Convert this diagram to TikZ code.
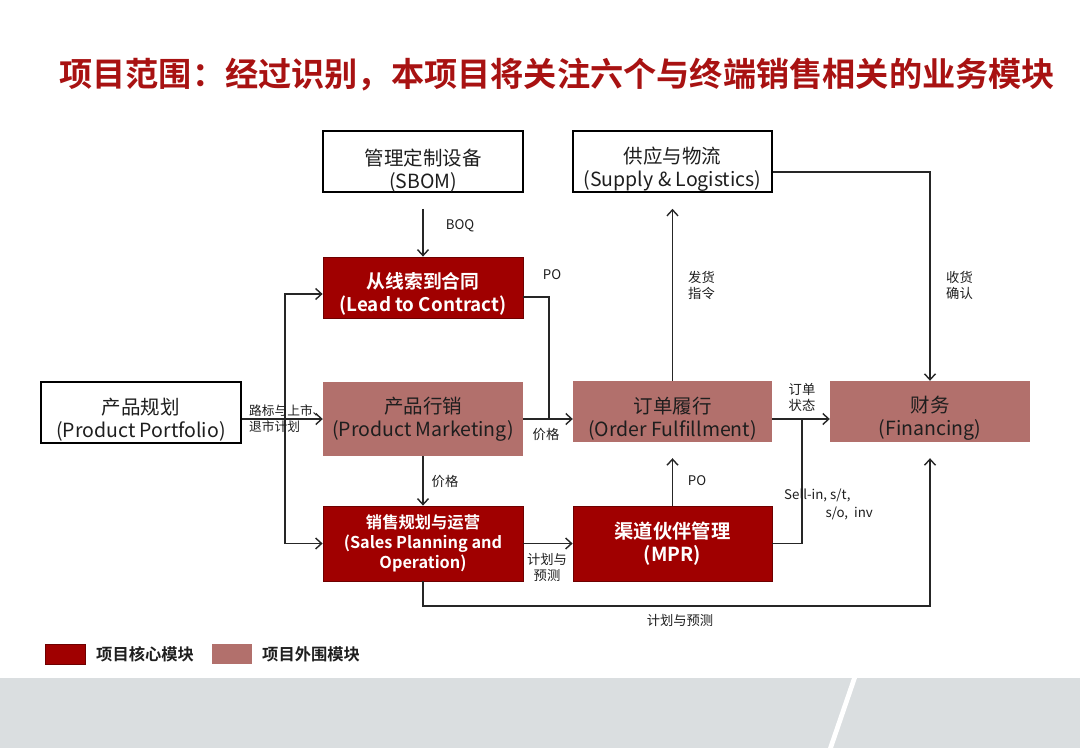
\documentclass[tikz,border=0pt]{standalone}
\usepackage{fontspec}
\setmainfont{Noto Sans CJK SC}[BoldFont={Noto Sans CJK SC Bold}]
\usetikzlibrary{arrows.meta}
\definecolor{core}{RGB}{160,0,0}
\definecolor{coreline}{RGB}{110,0,0}
\definecolor{outer}{RGB}{178,112,108}
\definecolor{titlered}{RGB}{168,18,18}
\definecolor{txt}{RGB}{30,30,30}
\definecolor{band}{RGB}{218,222,224}
\tikzset{
  box/.style={draw=black, line width=1.6pt, fill=white, minimum width=200pt, inner sep=0pt},
  corebox/.style={draw=coreline, line width=0.8pt, fill=core, minimum width=200pt, inner sep=0pt},
  outerbox/.style={draw=none, fill=outer, minimum width=200pt, inner sep=0pt},
  boxtext/.style={align=center, text=txt, inner sep=0pt, font=\fontsize{19.5}{23}\selectfont},
  coretext/.style={align=center, text=white, inner sep=0pt, font=\fontsize{18.8}{23}\selectfont\bfseries},
  lbl/.style={text=txt, font=\fontsize{13.3}{16}\selectfont, inner sep=0pt},
  conn/.style={draw=black!85, line width=1.4pt},
  arr/.style={conn, -{Straight Barb[length=6pt,width=11pt,line width=1.4pt]}},
}
\begin{document}
\begin{tikzpicture}[x=1pt,y=-1pt]
\path[fill=white] (0,0) rectangle (1080,748);
\useasboundingbox (0,0) rectangle (1080,748);
% bottom band
\fill[band] (0,678) rectangle (1080,748);
\fill[white] (852,678) -- (857,678) -- (833,748) -- (828,748) -- cycle;
% title
\node[anchor=west, text=titlered, font=\fontsize{33.2}{38}\selectfont\bfseries, inner sep=0pt] (title) at (59,75) {项目范围：经过识别，本项目将关注六个与终端销售相关的业务模块};
% boxes
\node[box, minimum height=61pt] (sbom) at (423,161.5) {};
\node[box, minimum height=61pt, minimum width=199pt] (sup) at (672.5,161.5) {};
\node[corebox, minimum height=61pt] (l2c) at (423,287.5) {};
\node[box, minimum height=61pt] (port) at (141,412.5) {};
\node[outerbox, minimum height=74pt] (pm) at (423,419) {};
\node[outerbox, minimum height=61pt, minimum width=199pt] (of) at (672.5,411.5) {};
\node[outerbox, minimum height=61pt] (fin) at (930,411.5) {};
\node[corebox, minimum height=75pt] (sp) at (423,543.5) {};
\node[corebox, minimum height=75pt, minimum width=199pt] (mpr) at (672.5,543.5) {};
% box texts
\node[boxtext] (sbom-t) at ([yshift=-9pt]sbom.center) {管理定制设备\\(SBOM)};
\node[boxtext] (sup-t) at ([yshift=-8pt]sup.center) {供应与物流\\(Supply \& Logistics)};
\node[coretext] (l2c-t) at ([yshift=-6pt]l2c.center) {从线索到合同\\(Lead to Contract)};
\node[boxtext] (port-t) at ([yshift=-7pt]port.center) {产品规划\\(Product Portfolio)};
\node[boxtext] (pm-t) at ([yshift=-0.5pt]pm.center) {产品行销\\(Product Marketing)};
\node[boxtext] (of-t) at ([yshift=-7pt]of.center) {订单履行\\(Order Fulfillment)};
\node[boxtext] (fin-t) at ([yshift=-7pt]fin.center) {财务\\(Financing)};
\node[coretext, font=\fontsize{16.3}{20}\selectfont\bfseries] (sp-t) at (sp.center) {销售规划与运营\\(Sales Planning and\\Operation)};
\node[coretext, font=\fontsize{19.3}{23}\selectfont\bfseries] (mpr-t) at (mpr.center) {渠道伙伴管理\\(MPR)};
% helper coordinates
\coordinate (vx) at (285,419);
\coordinate (jx) at (549,419);
\coordinate (sx) at (802,419);
\coordinate (ux) at (930,172);
\coordinate (bx) at (423,606);
% connectors
\draw[arr] ([yshift=-16pt]sbom.south) -- (l2c.north);
\draw[arr] (of.north) -- ([yshift=-16pt]sup.south);
\draw[arr] ([yshift=-10.5pt]sup.east) -- (ux) -- (fin.north);
\draw[conn] ([yshift=-9.5pt]l2c.east) -| (jx);
\draw[arr] (pm.east) -- (of.west |- pm.east);
\draw[arr] (port.east |- pm.west) -- (pm.west);
\draw[arr] (vx) |- ([yshift=-6.5pt]l2c.west);
\draw[arr] (vx) |- (sp.west);
\draw[arr] (pm.south) -- (sp.north);
\draw[arr] (sp.east) -- (mpr.west);
\draw[arr] (mpr.north) -- ([yshift=-16pt]of.south);
\draw[arr] (of.east |- pm.east) -- (fin.west |- pm.east);
\draw[conn] (mpr.east) -| (sx);
\draw[arr] (sp.south) -- (bx) -| ([yshift=-16pt]fin.south);
% labels
\node[lbl] (lboq) at (460,226) {BOQ};
\node[lbl] (lpo1) at (552,275) {PO};
\node[lbl] (ljg1) at (546,434) {价格};
\node[lbl, anchor=west, align=left, font=\fontsize{12.7}{16}\selectfont] (lroad) at (249,418.5) {路标与上市、\\退市计划};
\node[lbl] (ljg2) at (445,481) {价格};
\node[lbl, align=center] (ljh1) at (547,567) {计划与\\预测};
\node[lbl] (lpo2) at (697,481) {PO};
\node[lbl, anchor=west, align=left] (lfh) at (688,285) {发货\\指令};
\node[lbl, anchor=west, align=left] (lsh) at (946,285) {收货\\确认};
\node[lbl, align=center] (ldd) at (802,397) {订单\\状态};
\node[lbl, anchor=west] (lsell1) at (784,495) {Sell-in, s/t,};
\node[lbl, anchor=east] (lsell2) at (873,513) {s/o,\ \ inv};
\node[lbl] (ljh2) at (680,620) {计划与预测};
% legend
\node[draw=coreline, line width=0.8pt, fill=core, minimum width=40pt, minimum height=20pt, inner sep=0pt] (lgc) at (65,654) {};
\node[anchor=west, text=txt, font=\fontsize{16.3}{18}\selectfont\bfseries, inner sep=0pt] (lgct) at (96,654) {项目核心模块};
\node[fill=outer, minimum width=40pt, minimum height=20pt, inner sep=0pt] (lgo) at (232,654) {};
\node[anchor=west, text=txt, font=\fontsize{16.3}{18}\selectfont\bfseries, inner sep=0pt] (lgot) at (262,654) {项目外围模块};
\end{tikzpicture}
\end{document}
